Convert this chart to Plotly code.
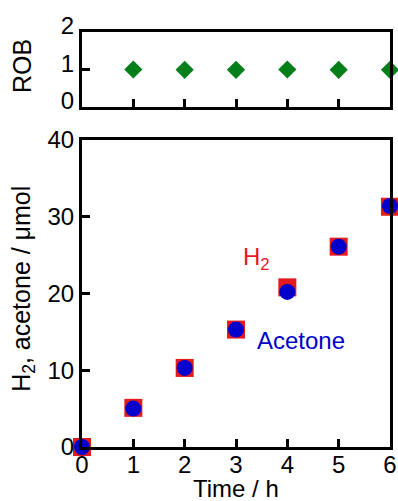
import plotly.graph_objects as go

time_h = [0, 1, 2, 3, 4, 5, 6]
h2_umol = [0.0, 5.1, 10.3, 15.3, 20.8, 26.1, 31.3]
acetone_umol = [0.0, 5.0, 10.3, 15.3, 20.2, 26.1, 31.4]
rob_time = [1, 2, 3, 4, 5, 6]
rob_values = [1.0, 0.99, 0.99, 1.0, 0.99, 0.99]

FONT = "Arial, Liberation Sans, sans-serif"
RED = "#e41a1c"
BLUE = "#0000cd"
GREEN = "#037f1a"

fig = go.Figure()
fig.add_trace(go.Scatter(x=time_h, y=h2_umol, mode="markers",
                         marker=dict(symbol="square", size=18, color=RED),
                         cliponaxis=False, xaxis="x", yaxis="y"))
fig.add_trace(go.Scatter(x=time_h, y=acetone_umol, mode="markers",
                         marker=dict(symbol="circle", size=16, color=BLUE),
                         cliponaxis=False, xaxis="x", yaxis="y"))
fig.add_trace(go.Scatter(x=rob_time, y=rob_values, mode="markers",
                         marker=dict(symbol="diamond", size=14, color=GREEN),
                         cliponaxis=False, xaxis="x2", yaxis="y2"))

axis_common = dict(showline=True, linecolor="black", linewidth=3, mirror=True,
                   ticks="inside", ticklen=8, tickwidth=3, tickcolor="black",
                   showgrid=False, zeroline=False, automargin=False,
                   tickfont=dict(family=FONT, size=24, color="black"))

title_font = dict(family=FONT, size=25, color="black")

fig.update_layout(
    width=398, height=501,
    margin=dict(l=82, r=8, t=32, b=54),
    paper_bgcolor="white", plot_bgcolor="white",
    showlegend=False,
    font=dict(family=FONT, color="black"),
    xaxis=dict(axis_common, range=[0, 6], tickvals=[0, 1, 2, 3, 4, 5, 6],
               domain=[0, 1], anchor="y", ticklabelstandoff=-6),
    yaxis=dict(axis_common, range=[0, 40], tickvals=[0, 10, 20, 30, 40],
               domain=[0, 0.7398], anchor="x"),
    xaxis2=dict(axis_common, range=[0, 6], tickvals=[1, 2, 3, 4, 5],
                showticklabels=False, domain=[0, 1], anchor="y2"),
    yaxis2=dict(axis_common, range=[0, 2], tickvals=[0, 1, 2],
                domain=[0.8193, 1], anchor="x2", ticklabelshift=-6),
    annotations=[
        dict(x=0.5, y=-0.099, xref="paper", yref="paper", text="Time / h",
             showarrow=False, xanchor="center", yanchor="middle",
             font=dict(family=FONT, size=24, color="black")),
        dict(x=-0.1916, y=0.381, xref="paper", yref="paper",
             text="H<sub>2</sub>, acetone / μmol", textangle=-90,
             showarrow=False, xanchor="center", yanchor="middle", font=title_font),
        dict(x=-0.195, y=0.918, xref="paper", yref="paper", text="ROB",
             textangle=-90, showarrow=False, xanchor="center", yanchor="middle",
             font=title_font),
        dict(x=3.10, y=24.6, xref="x", yref="y", text="H<sub>2</sub>",
             showarrow=False, xanchor="left", yanchor="middle",
             font=dict(family=FONT, size=24, color=RED)),
        dict(x=3.37, y=13.9, xref="x", yref="y", text="Acetone",
             showarrow=False, xanchor="left", yanchor="middle",
             font=dict(family=FONT, size=24, color=BLUE)),
    ],
)

fig.write_html("out.html")
